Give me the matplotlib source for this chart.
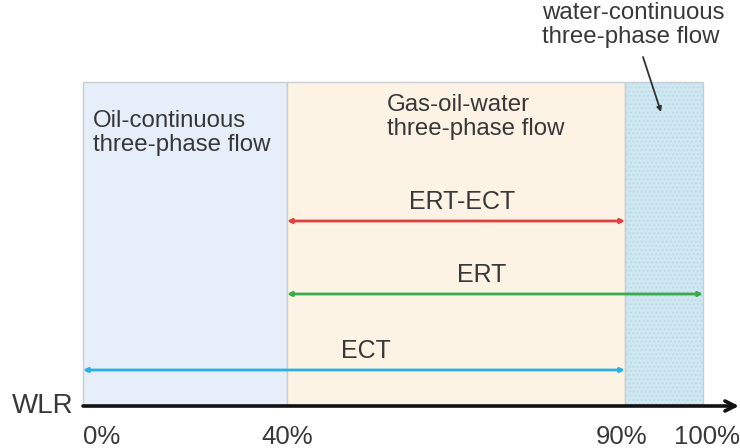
import numpy as np
import matplotlib
matplotlib.use("Agg")
import matplotlib.pyplot as plt
from matplotlib.patches import Rectangle

plt.rcParams['font.family'] = ['Liberation Sans', 'DejaVu Sans']

# ---- data ----
tick_values = [0, 40, 90, 100]
tick_labels = ['0%', '40%', '90%', '100%']
region_bounds = [(0, 40), (40, 90), (90, 100)]
region_colors = ['#e5eef9', '#fdf3e4', '#cfe8f2']
region_labels = ['Oil-continuous\nthree-phase flow', 'Gas-oil-water\nthree-phase flow',
                 'water-continuous\nthree-phase flow']
method_names = ['ERT-ECT', 'ERT', 'ECT']
method_ranges = [(40, 90), (40, 100), (0, 90)]
method_colors = ['#e0413f', '#3aab4a', '#2ab0e2']
method_levels = [221, 294, 370]
method_label_x = [65.9, 68.8, 51.7]   # WLR position of each label's centre

# piecewise-linear (non-uniform) WLR axis
wlr_pts = np.array([-100, 0, 40, 90, 100, 200], float)
pos_pts = np.array([83 - 510, 83, 287, 625, 703, 703 + 780], float)
def fwd(x):
    return np.interp(x, wlr_pts, pos_pts)
def inv(p):
    return np.interp(p, pos_pts, wlr_pts)

fig = plt.figure(figsize=(7.4, 4.48), dpi=100)
ax = fig.add_axes([0, 0, 1, 1])
ax.set_xscale('function', functions=(fwd, inv))
ax.set_xlim(inv(0), inv(740))
ax.set_ylim(448, 0)
ax.axis('off')

txt_color = '#383838'
top, base = 82, 405
for (a, b), c in zip(region_bounds, region_colors):
    ax.add_patch(Rectangle((a, top), b - a, base - top, facecolor=c,
                           edgecolor='#c9cdd2', lw=1.0, zorder=1))
# faint texture on water region
ax.add_patch(Rectangle((region_bounds[2][0], top), region_bounds[2][1] - region_bounds[2][0],
                       base - top, facecolor='none', edgecolor='#bcdbe8',
                       hatch='....', lw=0, zorder=1.5))

# region labels
ax.text(inv(93), 110, region_labels[0], fontsize=17.3, color=txt_color, va='top', ha='left',
        linespacing=1.12, zorder=5)
ax.text(inv(387), 94, region_labels[1], fontsize=17.3, color=txt_color, va='top', ha='left',
        linespacing=1.12, zorder=5)
ax.text(inv(542), 2, region_labels[2], fontsize=17.3, color=txt_color, va='top', ha='left',
        linespacing=1.12, zorder=5)
ax.annotate('', xy=(inv(661), 112), xytext=(inv(643), 57),
            arrowprops=dict(arrowstyle='-|>', color='#303030', lw=1.3,
                            mutation_scale=7, shrinkA=0, shrinkB=0), zorder=6)

# method ranges
label_dy = 19
for name, (a, b), c, y, xl in zip(method_names, method_ranges, method_colors,
                                  method_levels, method_label_x):
    ax.annotate('', xy=(b, y), xytext=(a, y),
                arrowprops=dict(arrowstyle='<|-|>', color=c, lw=2.0,
                                mutation_scale=6, shrinkA=0, shrinkB=0), zorder=4)
    ax.text(xl, y - label_dy, name, fontsize=18, color=txt_color, ha='center',
            va='center', zorder=5)

# WLR axis
ax.annotate('', xy=(inv(739), base + 1), xytext=(tick_values[0], base + 1),
            arrowprops=dict(arrowstyle='->', color='#111111', lw=2.6,
                            mutation_scale=18, shrinkA=0, shrinkB=0), zorder=7)
ax.text(inv(73), base + 1, 'WLR', fontsize=20, color=txt_color, ha='right', va='center')
for v, lab in zip(tick_values, tick_labels):
    ha = 'left' if v == tick_values[0] else 'center'
    xv = v
    if v == tick_values[-1]:
        xv = inv(fwd(v) + 4)
    if v == 90:
        xv = inv(fwd(v) - 3)
    ax.text(xv, 437, lab, fontsize=18.5, color=txt_color, ha=ha, va='center')

fig.savefig('out.png', dpi=100)
